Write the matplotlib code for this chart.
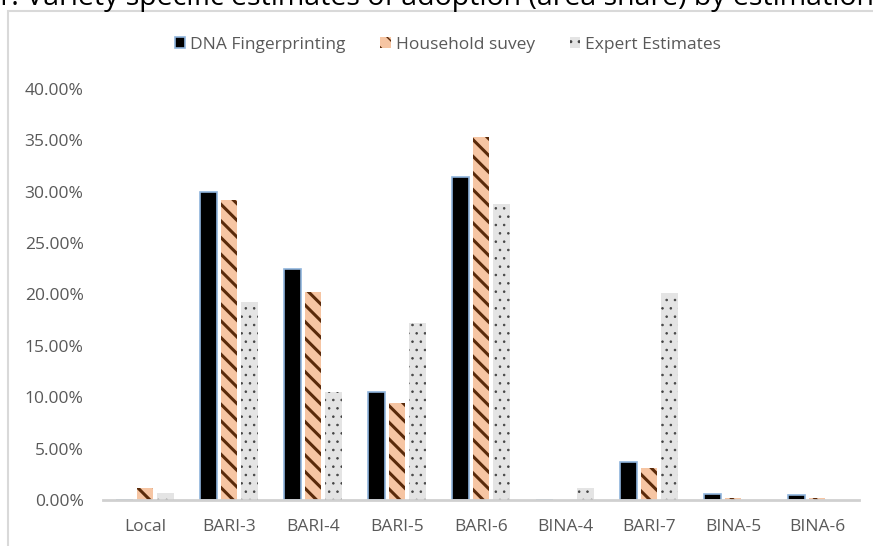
import numpy as np
import matplotlib.pyplot as plt
import matplotlib as mpl
from matplotlib.patches import Rectangle
from matplotlib.ticker import FuncFormatter

varieties = ['Local', 'BARI-3', 'BARI-4', 'BARI-5', 'BARI-6', 'BINA-4', 'BARI-7', 'BINA-5', 'BINA-6']
dna = [0.0, 30.0, 22.5, 10.5, 31.4, 0.0, 3.7, 0.55, 0.45]
household = [1.2, 29.2, 20.2, 9.4, 35.3, 0.0, 3.1, 0.2, 0.15]
expert = [0.7, 19.3, 10.5, 17.2, 28.8, 1.2, 20.1, 0.0, 0.0]
series_names = ['DNA Fingerprinting', 'Household suvey', 'Expert Estimates']
title = '1. Variety specific estimates of adoption (area share) by estimation'

plt.rcParams['font.family'] = ['Open Sans', 'DejaVu Sans']

fig = plt.figure(figsize=(8.73, 5.46), dpi=100)
W, H = 873, 546
ax = fig.add_axes([103 / W, (H - 500) / H, (859 - 103) / W, (500 - 89) / H])

x = np.arange(len(varieties))
w = 0.2
off = 0.24

b1 = ax.bar(x - off, dna, w, color='black', edgecolor='#8fb4dc', linewidth=1.2,
            label=series_names[0], zorder=3)
with mpl.rc_context({'hatch.linewidth': 2.2}):
    b2 = ax.bar(x, household, w, color='#f6c5a3', edgecolor='#5a2a0a', linewidth=0,
                hatch='\\\\', label=series_names[1], zorder=3)
with mpl.rc_context({'hatch.linewidth': 0.6}):
    b3 = ax.bar(x + off, expert, w, color='#e4e4e4', edgecolor='#444444', linewidth=0,
                hatch='..', label=series_names[2], zorder=3)

ax.set_xlim(-0.5, len(varieties) - 0.5)
ax.set_ylim(0, 40)
ax.set_yticks(np.arange(0, 41, 5))
ax.yaxis.set_major_formatter(FuncFormatter(lambda v, p: f'{v:.2f}%'))
ax.set_xticks(x)
ax.set_xticklabels(varieties)
ax.tick_params(axis='both', length=0, labelsize=12.5, colors='#595959')
ax.tick_params(axis='y', pad=14)
ax.tick_params(axis='x', pad=14)
for s in ['top', 'right', 'left']:
    ax.spines[s].set_visible(False)
ax.spines['bottom'].set_color('#d0d0d0')
ax.spines['bottom'].set_linewidth(2)
ax.spines['bottom'].set_zorder(4)

leg = fig.legend(handles=[b1, b2, b3], loc='center', bbox_to_anchor=(448 / W, 1 - 45 / H),
                 ncol=3, frameon=False, fontsize=12.5, handlelength=0.6, handleheight=0.6,
                 handletextpad=0.3, columnspacing=2.0)
for t in leg.get_texts():
    t.set_color('#595959')

# chart frame
fig.patches.append(Rectangle((8 / W, -0.05), 1.1, 1 - 11 / H + 0.05, transform=fig.transFigure,
                             fill=False, edgecolor='#d9d9d9', linewidth=1.5))

# document caption cut at the top
fig.text(-0.006, 1 - 5 / H, title, fontsize=20.5, color='black', ha='left', va='baseline')

fig.savefig('out.png', dpi=100)
